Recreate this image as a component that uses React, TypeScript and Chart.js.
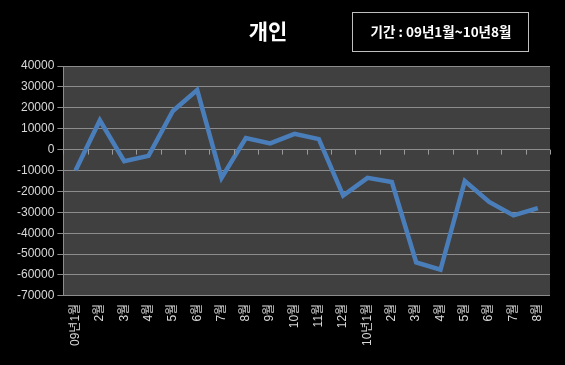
import React, { useEffect, useRef } from "react";
import { Chart, registerables } from "chart.js";

Chart.register(...registerables);

const categories = [
  "09년1월", "2월", "3월", "4월", "5월", "6월", "7월", "8월", "9월", "10월", "11월", "12월",
  "10년1월", "2월", "3월", "4월", "5월", "6월", "7월", "8월",
];
const values = [
  -10000, 14000, -5500, -3000, 18500, 28500, -13500, 5500, 3000, 7500, 5000, -22000,
  -13500, -15500, -54000, -57500, -15000, -25000, -31500, -28000,
];
const titleText = "개인";
const periodText = "기간 : 09년1월~10년8월";
const yMin = -70000;
const yMax = 40000;
const yStep = 10000;

const FONT = "'Liberation Sans', 'Noto Sans CJK KR', sans-serif";

const decorPlugin = {
  id: "decor",
  beforeDraw(chart: any) {
    const { ctx, chartArea, width, height } = chart;
    ctx.save();
    ctx.fillStyle = "#000000";
    ctx.fillRect(0, 0, width, height);
    ctx.fillStyle = "#404040";
    ctx.fillRect(chartArea.left, chartArea.top, chartArea.right - chartArea.left, chartArea.bottom - chartArea.top);
    ctx.restore();
  },
  afterDraw(chart: any) {
    const { ctx, chartArea } = chart;
    const y = chart.scales.y;
    ctx.save();
    const y0 = y.getPixelForValue(0);
    ctx.strokeStyle = "#9a9a9a";
    ctx.lineWidth = 1;
    const n = categories.length;
    const w = (chartArea.right - chartArea.left) / n;
    for (let i = 0; i <= n; i++) {
      const px = Math.round(chartArea.left + i * w) + 0.5;
      ctx.beginPath();
      ctx.moveTo(px, y0);
      ctx.lineTo(px, y0 + 5);
      ctx.stroke();
    }
    ctx.fillStyle = "#ffffff";
    ctx.font = "bold 21px 'Noto Sans CJK KR', sans-serif";
    ctx.textAlign = "center";
    ctx.textBaseline = "middle";
    ctx.fillText(titleText, 268, 31);
    ctx.strokeStyle = "#bfbfbf";
    ctx.lineWidth = 1;
    ctx.strokeRect(352.5, 12.5, 176, 39);
    ctx.font = "bold 13.5px 'Noto Sans CJK KR', sans-serif";
    ctx.fillStyle = "#ffffff";
    ctx.fillText(periodText, 441, 32);
    ctx.restore();
  },
};

export default function App() {
  const ref = useRef<HTMLCanvasElement>(null);
  useEffect(() => {
    document.body.style.margin = "0";
    const chart = new Chart(ref.current as HTMLCanvasElement, {
      type: "line",
      data: {
        labels: categories,
        datasets: [
          {
            data: values,
            borderColor: "#4a7ebb",
            borderWidth: 4.5,
            pointRadius: 0,
            tension: 0,
            fill: false,
          },
        ],
      },
      options: {
        animation: false,
        responsive: false,
        maintainAspectRatio: false,
        layout: { padding: { top: 66, right: 15, left: 14, bottom: 11 } },
        plugins: { legend: { display: false }, tooltip: { enabled: false }, title: { display: false } },
        scales: {
          x: {
            offset: true,
            grid: { display: false, drawTicks: false },
            border: { display: false },
            ticks: {
              color: "#d9d9d9",
              font: { family: FONT, size: 12 },
              minRotation: 90,
              maxRotation: 90,
              autoSkip: false,
              padding: 8,
            },
          },
          y: {
            min: yMin,
            max: yMax,
            grid: { color: "#8c8c8c", lineWidth: 1, tickLength: 6 },
            border: { display: true, color: "#8c8c8c" },
            ticks: {
              stepSize: yStep,
              color: "#d9d9d9",
              font: { family: FONT, size: 12 },
              padding: 3,
              callback: (v: any) => String(v),
            },
          },
        },
      },
      plugins: [decorPlugin],
    });
    return () => chart.destroy();
  }, []);
  return (
    <div style={{ position: "absolute", left: 0, top: 0, width: 565, height: 365, background: "#000" }}>
      <canvas ref={ref} width={565} height={365} style={{ width: 565, height: 365 }} />
    </div>
  );
}
